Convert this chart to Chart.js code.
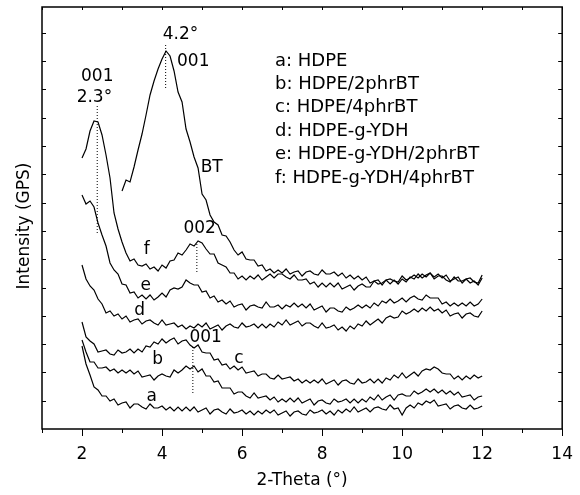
<!DOCTYPE html>
<html>
<head>
<meta charset="utf-8">
<script src="https://cdn.jsdelivr.net/npm/chart.js@4.4.1/dist/chart.umd.min.js"></script>
<style>
  html, body { margin: 0; padding: 0; background: #fff; }
  canvas { display: block; }
</style>
</head>
<body>
<canvas id="xrd" width="580" height="495"></canvas>
<script>
// 2-theta sampling grid shared by the six composite scans
const twoTheta = [
  2.0, 2.1, 2.2, 2.3, 2.4, 2.5, 2.6, 2.7, 2.8, 2.9,
  3.0, 3.1, 3.2, 3.3, 3.4, 3.5, 3.6, 3.7, 3.8, 3.9,
  4.0, 4.1, 4.2, 4.3, 4.4, 4.5, 4.6, 4.7, 4.8, 4.9,
  5.0, 5.1, 5.2, 5.3, 5.4, 5.5, 5.6, 5.7, 5.8, 5.9,
  6.0, 6.1, 6.2, 6.3, 6.4, 6.5, 6.6, 6.7, 6.8, 6.9,
  7.0, 7.1, 7.2, 7.3, 7.4, 7.5, 7.6, 7.7, 7.8, 7.9,
  8.0, 8.1, 8.2, 8.3, 8.4, 8.5, 8.6, 8.7, 8.8, 8.9,
  9.0, 9.1, 9.2, 9.3, 9.4, 9.5, 9.6, 9.7, 9.8, 9.9,
  10.0, 10.1, 10.2, 10.3, 10.4, 10.5, 10.6, 10.7, 10.8, 10.9,
  11.0, 11.1, 11.2, 11.3, 11.4, 11.5, 11.6, 11.7, 11.8, 11.9,
  12.0
];

// intensities (arbitrary units, curves are stacked with offsets)
const hdpe = [
  83, 65, 54, 42, 39, 33, 33, 28, 30, 24,
  26, 27, 21, 25, 25, 22, 20, 25, 21, 21,
  23, 19, 22, 18, 22, 18, 22, 18, 22, 17,
  19, 21, 15, 19, 20, 17, 15, 20, 16, 17,
  19, 15, 18, 14, 18, 15, 19, 16, 19, 14,
  16, 18, 13, 17, 18, 15, 14, 19, 16, 17,
  19, 15, 18, 14, 19, 16, 20, 17, 22, 17,
  19, 21, 17, 21, 22, 20, 19, 24, 20, 21,
  14, 21, 24, 21, 26, 24, 28, 26, 29, 23,
  24, 25, 20, 23, 24, 21, 20, 24, 20, 21,
  23
];
const hdpe2BT = [
  89, 77, 67, 67, 61, 61, 62, 58, 60, 56,
  59, 56, 59, 55, 58, 52, 53, 54, 49, 53,
  55, 53, 52, 59, 56, 59, 63, 60, 63, 57,
  60, 53, 53, 47, 48, 41, 41, 41, 35, 37,
  37, 33, 31, 36, 31, 32, 33, 29, 32, 27,
  30, 27, 31, 27, 31, 26, 28, 30, 24, 28,
  29, 26, 25, 30, 27, 28, 30, 26, 30, 26,
  30, 27, 32, 29, 34, 29, 32, 34, 29, 34,
  35, 33, 33, 38, 35, 37, 40, 37, 40, 36,
  39, 35, 38, 34, 37, 32, 33, 34, 29, 32,
  33
];
const hdpe4BT = [
  107, 92, 88, 85, 77, 78, 79, 75, 74, 79,
  76, 77, 80, 76, 80, 77, 83, 82, 87, 85,
  90, 86, 89, 91, 85, 88, 89, 84, 81, 84,
  77, 76, 76, 69, 70, 64, 65, 60, 63, 59,
  62, 56, 57, 58, 53, 55, 55, 51, 50, 54,
  50, 51, 52, 48, 50, 46, 49, 46, 49, 46,
  50, 45, 47, 49, 44, 48, 49, 46, 45, 50,
  46, 47, 50, 46, 50, 46, 51, 49, 54, 51,
  56, 51, 54, 57, 53, 58, 60, 59, 62, 60,
  56, 55, 55, 50, 53, 49, 53, 50, 54, 51,
  53
];
const ydh = [
  164, 150, 143, 139, 130, 125, 116, 118, 113, 115,
  110, 113, 107, 109, 110, 105, 108, 109, 106, 104,
  109, 104, 105, 106, 102, 104, 100, 103, 101, 105,
  102, 106, 100, 102, 104, 99, 103, 105, 102, 101,
  106, 102, 103, 105, 101, 105, 101, 105, 102, 107,
  104, 109, 104, 106, 108, 103, 106, 106, 103, 101,
  106, 101, 102, 104, 99, 102, 98, 103, 100, 105,
  103, 108, 104, 107, 110, 106, 111, 113, 111, 112,
  118, 115, 117, 120, 117, 121, 118, 122, 118, 120,
  116, 119, 113, 115, 116, 111, 115, 116, 113, 112,
  118
];
const ydh2BT = [
  234, 225, 228, 222, 206, 194, 183, 166, 159, 155,
  145, 144, 136, 137, 131, 134, 130, 134, 129, 132,
  136, 132, 139, 141, 140, 142, 149, 146, 144, 144,
  137, 138, 131, 133, 127, 129, 125, 128, 122, 124,
  125, 119, 123, 124, 122, 121, 127, 122, 122, 124,
  120, 124, 122, 126, 122, 125, 121, 125, 119, 121,
  123, 117, 121, 121, 118, 117, 122, 119, 121, 124,
  121, 124, 121, 126, 123, 128, 126, 130, 126, 128,
  131, 127, 131, 133, 130, 129, 134, 131, 131, 131,
  125, 127, 123, 126, 123, 126, 123, 127, 123, 125,
  130
];
const ydh4BT = [
  271, 280, 298, 308, 307, 294, 274, 251, 216, 200,
  187, 176, 168, 170, 164, 163, 165, 160, 162, 158,
  164, 161, 168, 169, 176, 174, 179, 185, 183, 188,
  186, 180, 175, 175, 166, 164, 162, 156, 156, 150,
  153, 149, 153, 150, 154, 149, 152, 155, 151, 155,
  155, 152, 150, 154, 149, 149, 150, 145, 147, 142,
  146, 142, 146, 142, 146, 140, 142, 144, 139, 143,
  145, 142, 142, 148, 145, 146, 149, 145, 149, 145,
  150, 147, 152, 150, 155, 151, 154, 156, 150, 153,
  153, 149, 147, 152, 148, 148, 150, 146, 148, 144,
  151
];

// pure BT, scanned from 3 degrees
const btTheta = twoTheta.filter(t => t >= 3);
const bt = [
  238, 249, 247, 262, 279, 295, 314, 334, 348, 360,
  370, 378, 373, 358, 337, 327, 300, 287, 272, 261,
  235, 229, 214, 207, 204, 194, 193, 187, 179, 174,
  177, 170, 169, 169, 163, 164, 158, 160, 156, 159,
  156, 160, 155, 157, 158, 153, 157, 158, 155, 154,
  159, 155, 155, 157, 153, 156, 151, 154, 150, 153,
  149, 152, 146, 148, 149, 144, 149, 150, 148, 147,
  153, 149, 151, 154, 151, 155, 152, 156, 152, 155,
  151, 154, 148, 150, 152, 146, 150, 151, 147, 146,
  154
];

// dotted peak markers
const peakTheta = [2.38, 4.09, 4.87, 4.77];
const peakFrom = [196, 341, 157, 36];
const peakTo = [324, 386, 186, 83];

const sampleKeys = ['a', 'b', 'c', 'd', 'e', 'f'];
const sampleNames = ['HDPE', 'HDPE/2phrBT', 'HDPE/4phrBT', 'HDPE-g-YDH',
  'HDPE-g-YDH/2phrBT', 'HDPE-g-YDH/4phrBT'];

const FONT = '"DejaVu Sans", sans-serif';
const Y_STEP = 28.3;

const trace = (values, xs = twoTheta) => ({
  data: values.map((v, i) => ({x: xs[i], y: v})),
  borderColor: '#000',
  borderWidth: 1.2,
  pointRadius: 0
});

const peakLines = peakTheta.map((t, i) => ({
  data: [{x: t, y: peakFrom[i]}, {x: t, y: peakTo[i]}],
  borderColor: '#000',
  borderWidth: 1,
  borderDash: [1, 2],
  pointRadius: 0
}));

// text placed in data coords: [text, theta, intensity]
const notes = [
  ['4.2°', 4.46, 394], ['001', 4.78, 367],
  ['001', 2.38, 352], ['2.3°', 2.31, 331],
  ['BT', 5.24, 261], ['002', 4.94, 200], ['001', 5.09, 91],
  ['f', 3.62, 179], ['e', 3.59, 143], ['d', 3.44, 118],
  ['c', 5.92, 70], ['b', 3.89, 69], ['a', 3.74, 32]
];

const frame = {
  id: 'frame',
  afterDraw(chart) {
    const {ctx, chartArea: a, scales: {x, y}} = chart;
    ctx.save();
    ctx.strokeStyle = '#000';
    ctx.lineWidth = 1.5;
    ctx.strokeRect(a.left, a.top, a.right - a.left, a.bottom - a.top);

    ctx.lineWidth = 1;
    ctx.beginPath();
    for (let v = 1; v <= 14; v++) {
      const px = Math.round(x.getPixelForValue(v)) + 0.5;
      ctx.moveTo(px, a.bottom);
      ctx.lineTo(px, a.bottom + (v % 2 === 0 ? 7 : 4));
      ctx.moveTo(px, a.top);
      ctx.lineTo(px, a.top + 3);
    }
    for (let k = 1; k <= 14; k++) {
      const py = Math.round(y.getPixelForValue(k * Y_STEP)) + 0.5;
      ctx.moveTo(a.left, py);
      ctx.lineTo(a.left + 4, py);
      ctx.moveTo(a.right, py);
      ctx.lineTo(a.right - 4, py);
    }
    ctx.stroke();

    ctx.fillStyle = '#000';
    ctx.font = '17px ' + FONT;
    ctx.textAlign = 'center';
    ctx.textBaseline = 'middle';
    notes.forEach(([t, tx, ty]) => {
      ctx.fillText(t, x.getPixelForValue(tx), y.getPixelForValue(ty));
    });

    ctx.textAlign = 'left';
    ctx.font = '18px ' + FONT;
    sampleKeys.forEach((k, i) => {
      ctx.fillText(k + ': ' + sampleNames[i], 275, 61 + i * 23.4);
    });

    ctx.font = '17px ' + FONT;
    ctx.textAlign = 'center';
    ctx.translate(25, 226);
    ctx.rotate(-Math.PI / 2);
    ctx.fillText('Intensity (GPS)', 0, 0);
    ctx.restore();
  }
};

new Chart(document.getElementById('xrd'), {
  type: 'line',
  data: {
    datasets: [
      trace(hdpe), trace(hdpe2BT), trace(hdpe4BT),
      trace(ydh), trace(ydh2BT), trace(ydh4BT),
      trace(bt, btTheta),
      ...peakLines
    ]
  },
  options: {
    responsive: false,
    animation: false,
    devicePixelRatio: 1,
    layout: {padding: {top: 7, right: 15, left: 0, bottom: 0}},
    plugins: {legend: {display: false}, tooltip: {enabled: false}},
    elements: {line: {tension: 0}},
    scales: {
      x: {
        type: 'linear', min: 1, max: 14,
        grid: {display: false},
        border: {display: false},
        ticks: {
          stepSize: 1, autoSkip: false, maxRotation: 0, padding: 7,
          color: '#000', font: {family: FONT, size: 17},
          callback: v => (v % 2 === 0 ? v : '')
        },
        title: {
          display: true, text: '2-Theta (°)', color: '#000',
          font: {family: FONT, size: 17}, padding: {top: 0, bottom: 4}
        },
        afterFit: s => { s.height = 66; }
      },
      y: {
        min: 0, max: 422,
        grid: {display: false},
        border: {display: false},
        ticks: {display: false},
        afterFit: s => { s.width = 42; }
      }
    }
  },
  plugins: [frame]
});
</script>
</body>
</html>
